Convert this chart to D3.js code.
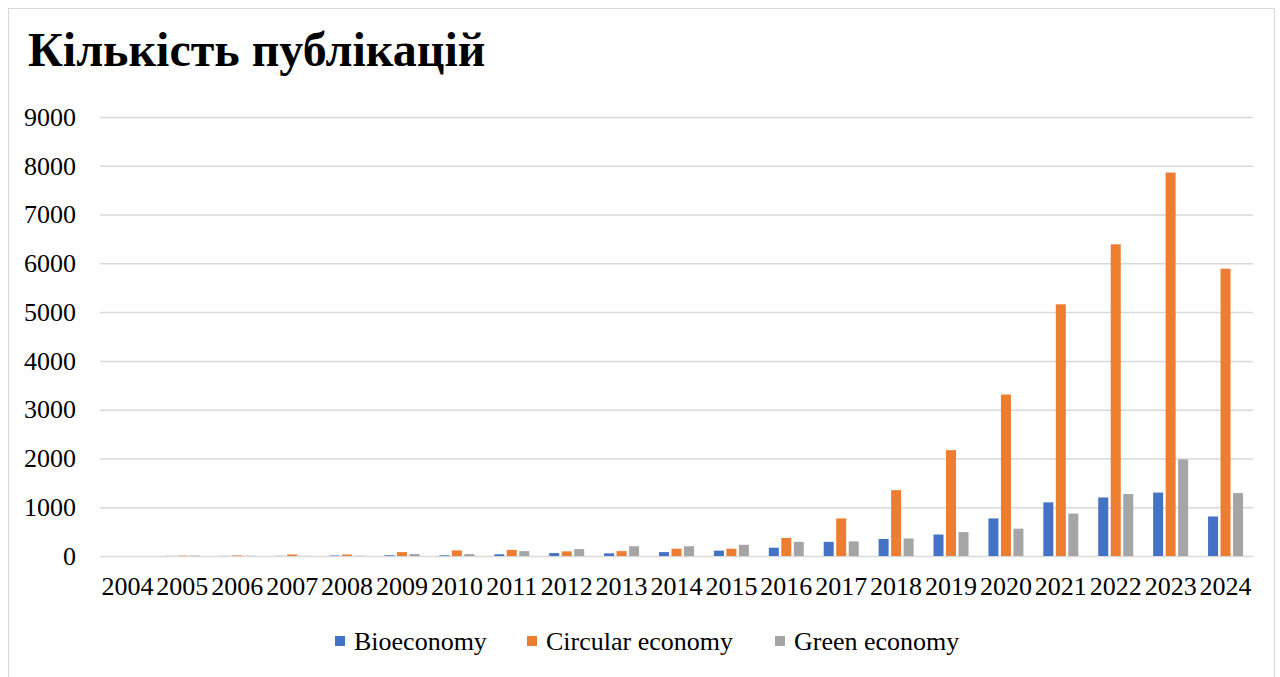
<!DOCTYPE html>
<html>
<head>
<meta charset="utf-8">
<script src="https://cdn.jsdelivr.net/npm/d3@7"></script>
<style>
  body { margin: 0; background: #fff; }
  svg { display: block; }
</style>
</head>
<body>
<svg id="chart"></svg>
<script>
// data
const years = ["2004", "2005", "2006", "2007", "2008", "2009", "2010", "2011", "2012", "2013", "2014",
    "2015", "2016", "2017", "2018", "2019", "2020", "2021", "2022", "2023", "2024"];
const seriesNames = ["Bioeconomy", "Circular economy", "Green economy"];
const bioeconomy = [0, 2, 2, 3, 10, 15, 15, 35, 60, 55, 80, 110, 170, 290, 350, 440, 770, 1100, 1200, 1300, 810];
const circularEconomy = [0, 8, 12, 30, 30, 80, 115, 125, 95, 100, 150, 150, 370, 770, 1350, 2170, 3310, 5160, 6390, 7860, 5890];
const greenEconomy = [0, 10, 5, 3, 5, 40, 40, 100, 140, 200, 200, 230, 290, 300, 360, 490, 560, 870, 1270, 1980, 1290];
const yTicks = [0, 1000, 2000, 3000, 4000, 5000, 6000, 7000, 8000, 9000];
const colors = ["#4472C4", "#ED7D31", "#A5A5A5"];

// init variables
let svgWidth = 1280;
let svgHeight = 677;
let margin = { top: 117, right: 27, bottom: 121, left: 100 };
let width = svgWidth - margin.left - margin.right;
let height = svgHeight - margin.top - margin.bottom;
let font = "'Liberation Serif', 'Times New Roman', serif";

let seriesValues = [bioeconomy, circularEconomy, greenEconomy];
let rows = years.map((year, i) => ({
    year: year,
    values: seriesNames.map((name, s) => ({ name: name, value: seriesValues[s][i] }))
}));

let svg = d3.select("#chart").attr("width", svgWidth).attr("height", svgHeight);

// chart border
svg.append("rect")
    .attr("x", 8.5).attr("y", 8.5)
    .attr("width", 1266).attr("height", 700)
    .attr("fill", "none")
    .attr("stroke", "#d9d9d9")
    .attr("stroke-width", 1);

// title
svg.append("text")
    .attr("x", 28).attr("y", 66)
    .attr("font-family", font)
    .attr("font-weight", "bold")
    .attr("font-size", "48px")
    .attr("fill", "#000")
    .text("Кількість публікацій");

// scales
let x0 = d3.scaleBand().domain(years).range([0, width]);
let groupWidth = 35;
let x1 = d3.scaleBand()
    .domain(seriesNames)
    .range([(x0.bandwidth() - groupWidth) / 2, (x0.bandwidth() + groupWidth) / 2])
    .paddingInner(0.2);
let y = d3.scaleLinear().domain([0, 9000]).range([height, 0]);
let color = d3.scaleOrdinal().domain(seriesNames).range(colors);

let g = svg.append("g")
    .attr("transform", "translate(" + margin.left + "," + margin.top + ")");

// gridlines
let yAxis = g.append("g")
    .call(d3.axisLeft(y).tickValues(yTicks).tickSize(-width).tickPadding(24).tickFormat(d3.format("d")));
yAxis.select(".domain").remove();
yAxis.selectAll(".tick line").attr("stroke", "#d9d9d9").attr("stroke-width", 1.5);
yAxis.selectAll(".tick text")
    .attr("font-family", font)
    .attr("font-size", "26px")
    .attr("fill", "#000");

// bars
let groups = g.selectAll(".year").data(rows).enter().append("g")
    .attr("transform", (d) => "translate(" + x0(d.year) + ",0)");

groups.selectAll("rect")
    .data((d) => d.values)
    .enter().append("rect")
    .attr("x", (d) => x1(d.name))
    .attr("y", (d) => y(d.value))
    .attr("width", x1.bandwidth())
    .attr("height", (d) => height - y(d.value))
    .attr("fill", (d) => color(d.name));

// x axis labels
let xAxis = g.append("g")
    .attr("transform", "translate(0," + height + ")")
    .call(d3.axisBottom(x0).tickSize(0).tickPadding(21));
xAxis.select(".domain").remove();
xAxis.selectAll(".tick text")
    .attr("font-family", font)
    .attr("font-size", "26px")
    .attr("fill", "#000");

// legend
let legendX = [335, 527, 775];
let legend = svg.selectAll(".legend").data(seriesNames).enter().append("g")
    .attr("transform", (d, i) => "translate(" + legendX[i] + ",636)");
legend.append("rect")
    .attr("width", 10).attr("height", 10)
    .attr("fill", (d) => color(d));
legend.append("text")
    .attr("x", 19).attr("y", 14)
    .attr("font-family", font)
    .attr("font-size", "26px")
    .attr("fill", "#000")
    .text((d) => d);
</script>
</body>
</html>
